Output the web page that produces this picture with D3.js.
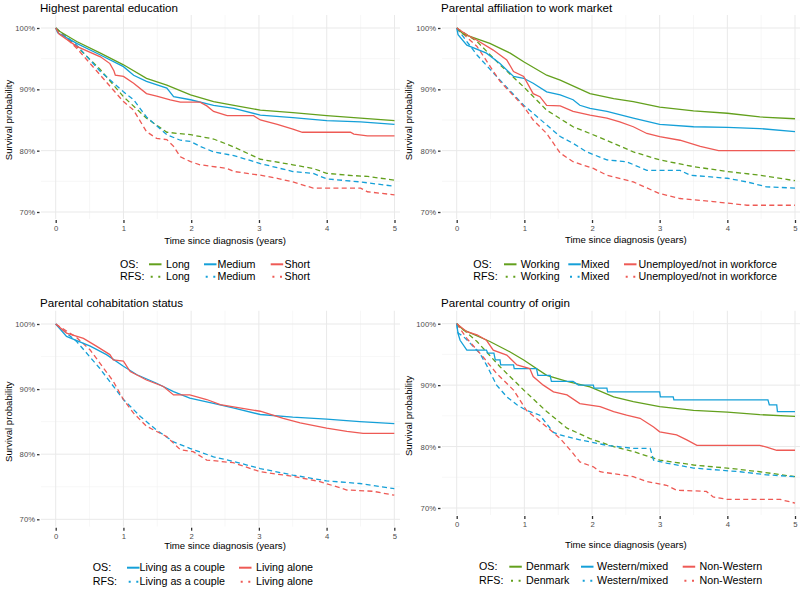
<!DOCTYPE html>
<html><head><meta charset="utf-8">
<script src="https://cdn.jsdelivr.net/npm/d3@7"></script>
<style>body{margin:0;background:#fff}svg{display:block}</style>
</head><body><svg id="c" width="800" height="590"></svg>
<script>
// ---------- data (time in years, survival in %) ----------
const timeTicks = [0, 1, 2, 3, 4, 5];
const survTicks = [70, 80, 90, 100];

const panelTitles = ["Highest parental education", "Parental affiliation to work market",
                     "Parental cohabitation status", "Parental country of origin"];
const eduGroups = ["Long", "Medium", "Short"];
const workGroups = ["Working", "Mixed", "Unemployed/not in workforce"];
const cohGroups = ["Living as a couple", "Living alone"];
const oriGroups = ["Denmark", "Western/mixed", "Non-Western"];

// Highest parental education
const eduOSLong = [[0,100],[0.05,99.5],[0.31,97.8],[0.66,95.9],[1.0,94.0],[1.34,91.8],[1.64,90.7],[1.99,89.1],[2.33,88.0],[2.63,87.4],[3.02,86.6],[3.5,86.2],[4.0,85.7],[4.5,85.3],[5,84.9]];
const eduOSMedium = [[0,100],[0.03,99.2],[0.31,97.5],[0.66,95.6],[1.0,93.7],[1.15,92.3],[1.34,91.3],[1.64,90.2],[1.74,88.8],[1.99,88.3],[2.33,87.4],[2.63,86.9],[3.02,85.8],[3.5,85.4],[4.0,84.9],[4.5,84.7],[5,84.3]];
const eduOSShort = [[0,100],[0.05,99.0],[0.31,97.0],[0.66,95.3],[0.8,94.2],[0.86,93.0],[0.88,92.3],[1.0,92.1],[1.15,91.0],[1.34,89.3],[1.49,88.9],[1.69,88.3],[1.84,87.9],[2.13,87.9],[2.23,87.3],[2.33,86.4],[2.53,85.7],[2.92,85.7],[3.02,85.0],[3.27,84.3],[3.5,83.5],[3.64,83.0],[4.35,83.0],[4.4,82.7],[4.6,82.4],[5,82.4]];
const eduRFSLong = [[0,100],[0.31,97.0],[0.66,93.2],[1.0,88.8],[1.34,85.3],[1.64,83.0],[1.99,82.6],[2.33,81.9],[2.63,80.6],[3.02,78.6],[3.5,77.7],[3.8,77.1],[4.0,76.3],[4.3,76.0],[4.6,75.8],[5,75.2]];
const eduRFSMedium = [[0,100],[0.31,97.2],[0.66,92.9],[1.0,89.6],[1.15,88.3],[1.34,85.5],[1.64,82.6],[1.84,81.7],[1.99,81.5],[2.13,80.7],[2.33,79.8],[2.63,79.2],[3.02,77.9],[3.5,76.6],[3.8,76.3],[4.0,75.4],[4.5,74.9],[5,74.2]];
const eduRFSShort = [[0,100],[0.31,96.7],[0.66,92.3],[1.0,88.0],[1.15,86.6],[1.34,83.1],[1.49,82.0],[1.64,81.8],[1.74,80.7],[1.84,79.0],[1.99,78.2],[2.13,77.7],[2.53,77.1],[2.63,76.6],[3.02,76.0],[3.27,75.5],[3.5,74.9],[3.8,73.9],[4.5,73.9],[4.6,73.3],[5,72.8]];

// Parental affiliation to work market
const workOSWorking = [[0,100],[0.1,99.0],[0.49,97.5],[0.79,95.9],[0.99,94.5],[1.33,92.3],[1.53,91.5],[1.97,89.3],[2.32,88.5],[2.61,88.0],[3.0,87.1],[3.5,86.5],[4.0,86.1],[4.48,85.5],[5,85.2]];
const workOSMixed = [[0,100],[0.02,98.9],[0.15,97.2],[0.44,95.9],[0.64,94.2],[0.84,92.1],[0.99,91.8],[1.13,91.0],[1.33,89.6],[1.53,89.1],[1.72,88.3],[1.82,87.4],[1.97,86.9],[2.22,86.4],[2.61,85.3],[3.0,84.3],[3.5,83.9],[4.0,83.8],[4.48,83.6],[5,83.1]];
const workOSUnemp = [[0,100],[0.15,98.9],[0.3,98.0],[0.54,96.4],[0.64,95.6],[0.74,94.8],[0.84,92.9],[0.99,92.1],[1.13,89.3],[1.23,88.8],[1.33,87.4],[1.53,87.3],[1.72,86.4],[1.97,85.8],[2.22,85.3],[2.41,84.7],[2.61,83.9],[2.81,82.8],[3.0,82.3],[3.3,81.7],[3.6,80.7],[3.87,80.0],[5,80.0]];
const workRFSWorking = [[0,100],[0.3,97.8],[0.64,94.0],[0.99,90.4],[1.33,86.6],[1.72,83.9],[1.97,82.8],[2.32,81.2],[2.61,79.8],[3.0,78.5],[3.5,77.4],[4.0,76.6],[4.48,76.0],[5,75.1]];
const workRFSMixed = [[0,100],[0.3,95.6],[0.64,91.5],[0.99,87.4],[1.33,84.2],[1.53,82.3],[1.72,81.2],[1.92,79.8],[2.22,78.5],[2.51,78.2],[2.81,76.8],[3.3,76.8],[3.45,76.0],[4.0,75.5],[4.29,74.9],[4.58,74.1],[5,73.9]];
const workRFSUnemp = [[0,100],[0.3,97.0],[0.64,91.3],[0.99,87.2],[1.13,85.0],[1.33,82.8],[1.53,79.6],[1.72,78.2],[2.02,77.1],[2.22,76.0],[2.61,74.9],[3.0,73.0],[3.3,72.2],[3.79,71.7],[4.29,71.1],[5,71.1]];

// Parental cohabitation status
const cohOSCouple = [[0,100],[0.16,98.1],[0.51,96.6],[0.75,95.3],[1.0,93.5],[1.2,92.2],[1.49,90.9],[1.74,89.6],[1.98,88.6],[2.33,87.8],[2.62,87.1],[3.02,86.1],[3.5,85.7],[4.0,85.4],[4.49,85.0],[5,84.7]];
const cohOSAlone = [[0,100],[0.16,98.6],[0.41,97.8],[0.6,96.6],[0.8,95.3],[0.85,94.5],[1.0,94.3],[1.1,92.7],[1.25,91.9],[1.34,91.4],[1.59,90.4],[1.74,89.1],[1.98,89.1],[2.23,88.4],[2.43,87.6],[3.02,86.6],[3.36,85.5],[3.61,84.8],[4.0,84.0],[4.3,83.5],[4.54,83.2],[5,83.2]];
const cohRFSCouple = [[0,100],[0.31,97.3],[0.65,93.2],[1.0,88.4],[1.25,85.8],[1.49,83.7],[1.74,81.9],[1.98,80.9],[2.33,79.6],[2.62,78.9],[3.02,77.8],[3.5,76.8],[4.0,75.9],[4.49,75.5],[5,74.7]];
const cohRFSAlone = [[0,100],[0.3,98.0],[0.51,96.0],[0.85,91.2],[1.0,88.4],[1.15,86.3],[1.34,84.3],[1.64,82.7],[1.84,80.7],[2.03,80.4],[2.23,79.1],[2.62,78.7],[3.02,77.3],[3.5,76.6],[3.9,75.8],[4.3,74.5],[4.69,74.3],[5,73.7]];

// Parental country of origin
const oriOSDenmark = [[0,100],[0.1,99.0],[0.49,97.1],[0.79,95.4],[0.99,94.1],[1.33,91.6],[1.63,90.6],[1.97,89.7],[2.32,88.1],[2.61,87.3],[3.0,86.5],[3.5,85.9],[4.0,85.6],[4.48,85.2],[5,84.9]];
const oriOSWestern = [[0,100],[0.02,98.4],[0.05,97.3],[0.15,95.7],[0.44,95.7],[0.46,95.2],[0.55,95.2],[0.57,94.1],[0.64,94.1],[0.65,93.3],[0.84,93.3],[0.85,92.7],[1.18,92.7],[1.2,91.6],[1.38,91.6],[1.4,90.6],[1.72,90.6],[1.8,90.0],[2.02,90.0],[2.03,89.5],[2.22,89.5],[2.23,88.9],[3.0,88.9],[3.01,88.1],[3.2,88.1],[3.21,87.6],[4.6,87.6],[4.62,86.8],[4.73,86.8],[4.74,85.7],[5,85.7]];
const oriOSNonWestern = [[0,100],[0.15,98.7],[0.3,98.2],[0.44,97.3],[0.54,95.7],[0.74,94.9],[0.89,93.3],[1.08,92.7],[1.13,91.4],[1.28,90.0],[1.43,88.9],[1.63,88.4],[1.82,87.0],[2.12,86.5],[2.32,85.7],[2.51,85.1],[2.71,84.6],[2.91,83.2],[3.0,82.4],[3.25,81.9],[3.4,81.1],[3.55,80.2],[4.48,80.2],[4.58,79.9],[4.73,79.4],[5,79.4]];
const oriRFSDenmark = [[0,100],[0.3,97.1],[0.64,93.0],[0.99,89.2],[1.33,85.7],[1.63,83.0],[1.97,81.3],[2.32,80.0],[2.61,79.2],[3.0,77.8],[3.5,77.0],[4.0,76.5],[4.48,75.9],[5,75.1]];
const oriRFSWestern = [[0,100],[0.02,98.5],[0.1,97.9],[0.2,96.8],[0.34,95.2],[0.44,93.3],[0.59,90.0],[0.74,88.1],[0.89,86.8],[1.03,85.9],[1.23,85.1],[1.33,83.7],[1.43,82.3],[1.53,81.9],[1.82,81.1],[2.22,80.2],[2.61,79.7],[2.86,79.7],[2.91,77.8],[3.1,77.3],[3.5,76.5],[4.19,75.9],[4.58,75.4],[5,75.1]];
const oriRFSNonWestern = [[0,100],[0.15,97.6],[0.39,94.6],[0.59,91.9],[0.84,89.2],[1.03,85.9],[1.33,83.2],[1.53,81.3],[1.72,78.9],[1.82,77.5],[2.02,76.7],[2.12,75.9],[2.61,75.1],[2.81,74.3],[3.1,73.7],[3.25,72.9],[3.69,72.7],[3.79,71.8],[4.0,71.4],[4.78,71.4],[5,70.8]];

// ---------- styling / layout ----------
const FONT = '"Liberation Sans", Arial, Helvetica, sans-serif';
const COL = ["#63a01d", "#15a0d8", "#ee5a55"];
const COL2 = ["#15a0d8", "#ee5a55"];

const panels = [
  { title: panelTitles[0], groups: eduGroups, colors: COL,
    os: [eduOSLong, eduOSMedium, eduOSShort], rfs: [eduRFSLong, eduRFSMedium, eduRFSShort],
    left: 41, right: 400, top: 15, bottom: 219, x0: 55.7, x5: 394.5, y100: 28, y70: 212,
    titleX: 40, titleY: 11.5, yTitleX: 8.5, xTitleY: 240.7,
    legX: 120, legRows: [264.3, 276.7], keys: [149, 204, 270.7], texts: [166, 217.5, 284.5] },
  { title: panelTitles[1], groups: workGroups, colors: COL,
    os: [workOSWorking, workOSMixed, workOSUnemp], rfs: [workRFSWorking, workRFSMixed, workRFSUnemp],
    left: 442, right: 800, top: 15, bottom: 219, x0: 456.7, x5: 795, y100: 28, y70: 212,
    titleX: 441, titleY: 11.5, yTitleX: 409, xTitleY: 240,
    legX: 473.3, legRows: [264.3, 276.7], keys: [504, 568.3, 624], texts: [520.7, 581, 638.5] },
  { title: panelTitles[2], groups: cohGroups, colors: COL2,
    os: [cohOSCouple, cohOSAlone], rfs: [cohRFSCouple, cohRFSAlone],
    left: 41, right: 400, top: 310.5, bottom: 526.7, x0: 55.7, x5: 394.3, y100: 324, y70: 519.3,
    titleX: 40, titleY: 306.5, yTitleX: 8.5, xTitleY: 546,
    legX: 92.7, legRows: [567.7, 581.7], keys: [127, 239], texts: [139.5, 256] },
  { title: panelTitles[3], groups: oriGroups, colors: COL,
    os: [oriOSDenmark, oriOSWestern, oriOSNonWestern], rfs: [oriRFSDenmark, oriRFSWestern, oriRFSNonWestern],
    left: 442, right: 800, top: 310.5, bottom: 515, x0: 456.7, x5: 795, y100: 323.7, y70: 508,
    titleX: 441, titleY: 306.5, yTitleX: 409, xTitleY: 545,
    legX: 479, legRows: [566.7, 580.7], keys: [509.3, 581, 682.7], texts: [526, 597, 699.5] }
];

const svg = d3.select("#c").style("font-family", FONT);
svg.append("rect").attr("width", 800).attr("height", 590).attr("fill", "#fff");
const defs = svg.append("defs");

const minorX = d3.pairs(timeTicks).map(([a, b]) => (a + b) / 2);
const minorY = d3.pairs(survTicks).map(([a, b]) => (a + b) / 2);

panels.forEach((p, i) => {
  const g = svg.append("g");
  const x = d3.scaleLinear().domain([0, 5]).range([p.x0, p.x5]);
  const y = d3.scaleLinear().domain([70, 100]).range([p.y70, p.y100]);

  defs.append("clipPath").attr("id", "clip" + i).append("rect")
    .attr("x", p.left).attr("y", p.top).attr("width", p.right - p.left).attr("height", p.bottom - p.top);

  const grid = g.append("g").attr("clip-path", `url(#clip${i})`);
  grid.selectAll(".mx").data(minorX).join("line")
    .attr("x1", d => x(d)).attr("x2", d => x(d)).attr("y1", p.top).attr("y2", p.bottom)
    .attr("stroke", "#f2f2f2").attr("stroke-width", 0.6);
  grid.selectAll(".my").data(minorY).join("line")
    .attr("y1", d => y(d)).attr("y2", d => y(d)).attr("x1", p.left).attr("x2", p.right)
    .attr("stroke", "#f2f2f2").attr("stroke-width", 0.6);
  grid.selectAll(".gx").data(timeTicks).join("line")
    .attr("x1", d => x(d)).attr("x2", d => x(d)).attr("y1", p.top).attr("y2", p.bottom)
    .attr("stroke", "#e9e9e9").attr("stroke-width", 1);
  grid.selectAll(".gy").data(survTicks).join("line")
    .attr("y1", d => y(d)).attr("y2", d => y(d)).attr("x1", p.left).attr("x2", p.right)
    .attr("stroke", "#e9e9e9").attr("stroke-width", 1);

  // axes
  const ax = g.append("g").attr("transform", `translate(0,${p.bottom + 1})`)
    .call(d3.axisBottom(x).tickValues(timeTicks).tickFormat(d3.format("d")).tickSize(3).tickPadding(2.6));
  const ay = g.append("g").attr("transform", `translate(${p.left - 1.5},0)`)
    .call(d3.axisLeft(y).tickValues(survTicks).tickFormat(d => d + "%").tickSize(2.5).tickPadding(2));
  [ax, ay].forEach(a => {
    a.select(".domain").remove();
    a.selectAll(".tick line").attr("stroke", "#333").attr("stroke-width", 1.3);
    a.selectAll(".tick text").attr("fill", "#4d4d4d").style("font-size", "7.7px").style("font-family", FONT);
  });

  // curves
  const line = d3.line().x(d => x(d[0])).y(d => y(d[1]));
  const lg = g.append("g").attr("clip-path", `url(#clip${i})`).attr("fill", "none");
  p.rfs.forEach((s, k) => {
    lg.append("path").datum(s).attr("d", line).attr("stroke", p.colors[k])
      .attr("stroke-width", 1.3).attr("stroke-dasharray", "5,3.3");
  });
  p.os.forEach((s, k) => {
    lg.append("path").datum(s).attr("d", line).attr("stroke", p.colors[k])
      .attr("stroke-width", 1.3);
  });

  // titles
  g.append("text").attr("x", p.titleX).attr("y", p.titleY).text(p.title)
    .style("font-size", "11.6px").attr("fill", "#000");
  g.append("text").attr("x", (p.x0 + p.x5) / 2).attr("y", p.xTitleY).attr("dy", "0.35em")
    .attr("text-anchor", "middle").text("Time since diagnosis (years)")
    .style("font-size", "9.6px").attr("fill", "#000");
  g.append("text").attr("transform", `translate(${p.yTitleX},${(p.y100 + p.y70) / 2}) rotate(-90)`)
    .attr("dy", "0.35em").attr("text-anchor", "middle").text("Survival probability")
    .style("font-size", "9.6px").attr("fill", "#000");

  // legend
  const leg = g.append("g").style("font-size", "10.7px");
  ["OS:", "RFS:"].forEach((lab, r) => {
    leg.append("text").attr("x", p.legX).attr("y", p.legRows[r]).attr("dy", "0.35em").text(lab);
  });
  p.groups.forEach((gr, k) => {
    leg.append("line").attr("x1", p.keys[k]).attr("x2", p.keys[k] + 12.5)
      .attr("y1", p.legRows[0]).attr("y2", p.legRows[0])
      .attr("stroke", p.colors[k]).attr("stroke-width", 2);
    leg.append("line").attr("x1", p.keys[k] + 1.7).attr("x2", p.keys[k] + 11.3)
      .attr("y1", p.legRows[1]).attr("y2", p.legRows[1])
      .attr("stroke", p.colors[k]).attr("stroke-width", 2).attr("stroke-dasharray", "2,5.6");
    [0, 1].forEach(r => {
      leg.append("text").attr("x", p.texts[k]).attr("y", p.legRows[r]).attr("dy", "0.35em").text(gr);
    });
  });
});
</script>
</body></html>
